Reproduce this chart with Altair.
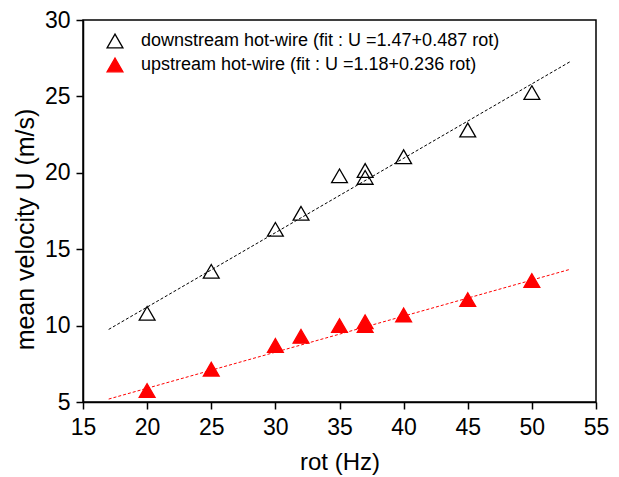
import altair as alt
import pandas as pd

# ---- data ----
rot = [20, 25, 30, 32, 35, 37, 37, 40, 45, 50]
down_u = [10.8, 13.55, 16.3, 17.35, 19.8, 20.15, 19.7, 21.05, 22.8, 25.25]
up_u = [5.75, 7.15, 8.7, 9.3, 10.0, 10.25, 10.0, 10.7, 11.7, 12.95]

names = ["downstream hot-wire (fit : U =1.47+0.487 rot)",
         "upstream hot-wire (fit : U =1.18+0.236 rot)"]
fit_names = ["downstream fit", "upstream fit"]
fit_intercept = [1.47, 1.18]
fit_slope = [0.487, 0.236]
fit_range = [17, 53]

x_ticks = [15, 17.5, 20, 22.5, 25, 27.5, 30, 32.5, 35, 37.5, 40, 42.5, 45, 47.5, 50, 52.5, 55]
y_ticks = [5, 7.5, 10, 12.5, 15, 17.5, 20, 22.5, 25, 27.5, 30]

pts = pd.DataFrame({
    "rot": rot + rot,
    "U": down_u + up_u,
    "series": [names[0]] * len(rot) + [names[1]] * len(rot),
})

fit_rows = []
for i, n in enumerate(fit_names):
    for xv in fit_range:
        fit_rows.append({"rot": xv, "U": fit_intercept[i] + fit_slope[i] * xv, "fit": n})
fits = pd.DataFrame(fit_rows)

FONT = "Liberation Sans"
xscale = alt.Scale(domain=[15, 55], nice=False, zero=False)
yscale = alt.Scale(domain=[5, 30], nice=False, zero=False)

major = "datum.value % 5 === 0"
lab = "datum.value % 5 === 0 ? datum.label : ''"

x_axis = alt.Axis(values=x_ticks, tickSize=alt.condition(major, alt.value(7), alt.value(4)),
                  tickWidth=1.5, domainWidth=1.5, labelFlush=False, labelOverlap=False,
                  domainColor="black", tickColor="black", labelColor="black",
                  labelExpr=lab, labelFont=FONT, labelFontSize=23,
                  labelBaseline="alphabetic", labelPadding=25, grid=False,
                  title="rot (Hz)", titleFont=FONT, titleFontSize=24,
                  titleFontWeight="normal", titleColor="black",
                  titleBaseline="alphabetic", titleY=67, orient="bottom")
y_axis = alt.Axis(values=y_ticks, tickSize=alt.condition(major, alt.value(7), alt.value(4)),
                  tickWidth=1.5, domainWidth=1.5, labelFlush=False, labelOverlap=False,
                  domainColor="black", tickColor="black", labelColor="black",
                  labelExpr=lab, labelFont=FONT, labelFontSize=23, labelPadding=6,
                  grid=False, title="mean velocity U (m/s)", titleFont=FONT,
                  titleFontSize=25, titleFontWeight="normal", titleColor="black",
                  titleBaseline="alphabetic", titleX=-50, titleY=209, orient="left")

legend = alt.Legend(title=None, orient="none", legendX=23, legendY=12,
                    labelFont=FONT, labelFontSize=18, labelColor="black",
                    symbolSize=250, symbolStrokeWidth=1.3, labelOffset=17,
                    rowPadding=4, padding=0, labelLimit=600)

lines = alt.Chart(fits).mark_line(strokeDash=[3, 2], strokeWidth=1).encode(
    x=alt.X("rot:Q", scale=xscale, axis=x_axis),
    y=alt.Y("U:Q", scale=yscale, axis=y_axis),
    color=alt.Color("fit:N", scale=alt.Scale(domain=fit_names, range=["black", "red"]), legend=None),
    detail="fit:N",
)

points = alt.Chart(pts).mark_point(size=250, strokeWidth=1.3, opacity=1, filled=False).encode(
    x=alt.X("rot:Q", scale=xscale),
    y=alt.Y("U:Q", scale=yscale),
    shape=alt.Shape("series:N", scale=alt.Scale(domain=names, range=["triangle-up", "triangle-up"]), legend=legend),
    stroke=alt.Stroke("series:N", scale=alt.Scale(domain=names, range=["black", "red"]), legend=legend),
    fill=alt.Fill("series:N", scale=alt.Scale(domain=names, range=["transparent", "red"]), legend=legend),
)

chart = alt.layer(lines, points).properties(
    width=513, height=382, background="white",
    autosize=alt.AutoSizeParams(type="none"),
    padding={"left": 75, "top": 12, "right": 15, "bottom": 73},
).configure_view(stroke="black", strokeWidth=1.5)

chart.save("out.html", embed_options={"renderer": "svg", "actions": False})
